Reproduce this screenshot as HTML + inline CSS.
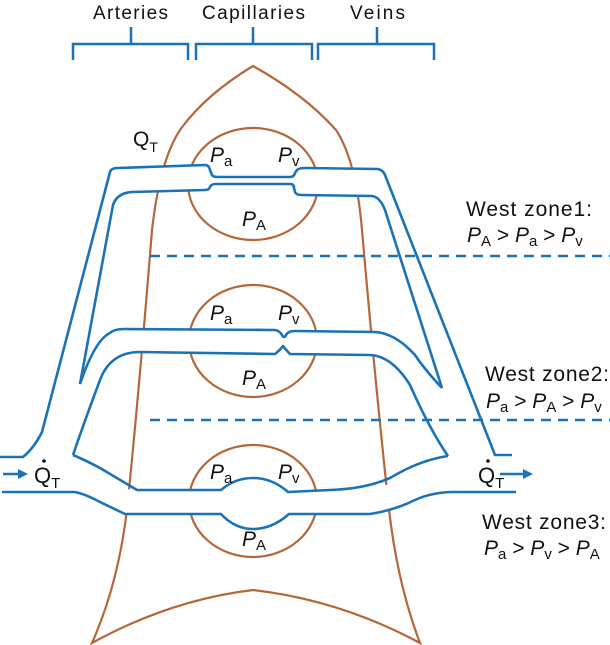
<!DOCTYPE html>
<html><head><meta charset="utf-8"><style>
html,body{margin:0;padding:0;background:#fff;}
svg{display:block;}
text{font-family:"Liberation Sans",Arial,sans-serif;fill:#111;}
</style></head><body>
<svg width="610" height="645" viewBox="0 0 610 645" xmlns="http://www.w3.org/2000/svg">
<g font-size="19">
<text x="93" y="19" textLength="75">Arteries</text>
<text x="202" y="19" textLength="103">Capillaries</text>
<text x="350" y="19" textLength="55">Veins</text>
</g>
<g stroke="#1a73b8" stroke-width="2.5" fill="none">
<path d="M73,60 V44 H188 V60 M131,27 V44"/>
<path d="M196,60 V44 H312 V60 M253,27 V44"/>
<path d="M318,60 V44 H434 V60 M377,27 V44"/>
</g>
<g stroke="#b5673a" stroke-width="2.2" fill="none">
<path d="M253,66 Q205,95 180,130 Q160,160 152,230 Q140,380 128,500 Q120,580 92,643 Q170,600 253,590 Q340,600 420,643 Q396,580 388,500 Q375,380 362,230 Q356,160 336,130 Q305,95 253,66 Z"/>
<ellipse cx="253" cy="184" rx="65" ry="56"/>
<ellipse cx="253" cy="341" rx="64" ry="56"/>
<ellipse cx="253" cy="501" rx="64" ry="56"/>
</g>
<g fill="#fff" stroke="none">
<path d="M130,167 L207,165 L212,177 L292,177 L297,168 L378,169 L385,180 L380,196 L298,195 L294,184 L212,184 L208,190 L125,192 Z"/>
<path d="M115,329 L385,332 L395,345 L385,355 L115,352 Z"/>
<path d="M95,489 L221,490 Q235,478 253,478 Q272,478 288,492 L330,490 Q365,489 405,482 L410,505 L370,514 L289,514 Q272,529 253,529 Q235,529 221,514 L100,514 Z"/>
</g>
<g stroke="#1a73b8" stroke-width="2.6" fill="none" stroke-linejoin="round">
<path d="M0,457 L23,457 Q34,448 42,432 L110,172 Q111,168 118,168 L205,165 Q209,165 210,170 L212,175 Q213,177 218,177 L290,177 Q294,177 295,173 L297,170 Q299,168 305,168 L378,169 Q383,170 385,175 L495,455 L512,455"/>
<path d="M80,384 L113,205 Q117,193 132,192 L205,190 Q209,190 210,187 Q211,184 216,184 L290,184 Q294,184 294,188 L295,192 Q296,195 302,195 L372,196 Q380,197 385,210 L442,388"/>
<path d="M80,384 Q95,340 110,333 Q114,329 125,329 L275,330 Q280,331 282,335 Q284,339 286,335 Q288,331 295,331 L375,332 Q395,333 415,355 Q425,370 442,388"/>
<path d="M73,455 Q85,420 100,380 Q110,353 138,352 L275,354 Q280,350 283,346 Q286,350 290,354 L370,355 Q392,356 410,385 Q430,430 448,456"/>
<path d="M73,455 Q85,460 100,468 L137,490 L221,490 Q235,478 253,478 Q272,478 288,492 L330,490 Q365,489 390,478 Q420,460 448,456"/>
<path d="M2,492 L75,492 Q85,494 100,502 L125,514 L221,514 Q235,529 253,529 Q272,529 289,514 L370,514 Q395,510 415,500 Q430,493 450,492 L516,492"/>
<path d="M3,474 H22"/>
<path d="M500,474 H524"/>
</g>
<g fill="#1a73b8">
<path d="M28,474 L18,469 L18,479 Z"/>
<path d="M533,474 L523,469 L523,479 Z"/>
</g>
<g stroke="#1a73b8" stroke-width="2.5" stroke-dasharray="10,7">
<line x1="150" y1="256" x2="610" y2="256"/>
<line x1="150" y1="420" x2="610" y2="420"/>
</g>
<g font-size="21">
<text x="133" y="146">Q<tspan font-size="14" dy="6">T</tspan></text>
<text x="210" y="162" font-style="italic">P<tspan font-style="normal" font-size="15" dy="4">a</tspan></text>
<text x="278" y="162" font-style="italic">P<tspan font-style="normal" font-size="15" dy="4">v</tspan></text>
<text x="242" y="226" font-style="italic">P<tspan font-style="normal" font-size="15" dy="4">A</tspan></text>
<text x="210" y="320" font-style="italic">P<tspan font-style="normal" font-size="15" dy="4">a</tspan></text>
<text x="278" y="320" font-style="italic">P<tspan font-style="normal" font-size="15" dy="4">v</tspan></text>
<text x="242" y="385" font-style="italic">P<tspan font-style="normal" font-size="15" dy="4">A</tspan></text>
<text x="210" y="479" font-style="italic">P<tspan font-style="normal" font-size="15" dy="4">a</tspan></text>
<text x="278" y="479" font-style="italic">P<tspan font-style="normal" font-size="15" dy="4">v</tspan></text>
<text x="242" y="546" font-style="italic">P<tspan font-style="normal" font-size="15" dy="4">A</tspan></text>
</g>
<g font-size="22">
<text x="34" y="483">Q<tspan font-size="15" dy="5">T</tspan></text>
<text x="478" y="483">Q<tspan font-size="15" dy="5">T</tspan></text>
</g>
<g fill="#111"><circle cx="44" cy="461" r="1.8"/><circle cx="488" cy="461" r="1.8"/></g>
<g font-size="21">
<text x="466" y="216" textLength="126">West zone1:</text>
<text x="467" y="242" font-style="italic">P<tspan font-style="normal" font-size="15" dy="4">A</tspan><tspan font-style="normal" dy="-4"> &gt; </tspan>P<tspan font-style="normal" font-size="15" dy="4">a</tspan><tspan font-style="normal" dy="-4"> &gt; </tspan>P<tspan font-style="normal" font-size="15" dy="4">v</tspan></text>
<text x="485" y="381" textLength="124">West zone2:</text>
<text x="486" y="408" font-style="italic">P<tspan font-style="normal" font-size="15" dy="4">a</tspan><tspan font-style="normal" dy="-4"> &gt; </tspan>P<tspan font-style="normal" font-size="15" dy="4">A</tspan><tspan font-style="normal" dy="-4"> &gt; </tspan>P<tspan font-style="normal" font-size="15" dy="4">v</tspan></text>
<text x="482" y="529" textLength="124">West zone3:</text>
<text x="484" y="555" font-style="italic">P<tspan font-style="normal" font-size="15" dy="4">a</tspan><tspan font-style="normal" dy="-4"> &gt; </tspan>P<tspan font-style="normal" font-size="15" dy="4">v</tspan><tspan font-style="normal" dy="-4"> &gt; </tspan>P<tspan font-style="normal" font-size="15" dy="4">A</tspan></text>
</g>
</svg>
</body></html>
